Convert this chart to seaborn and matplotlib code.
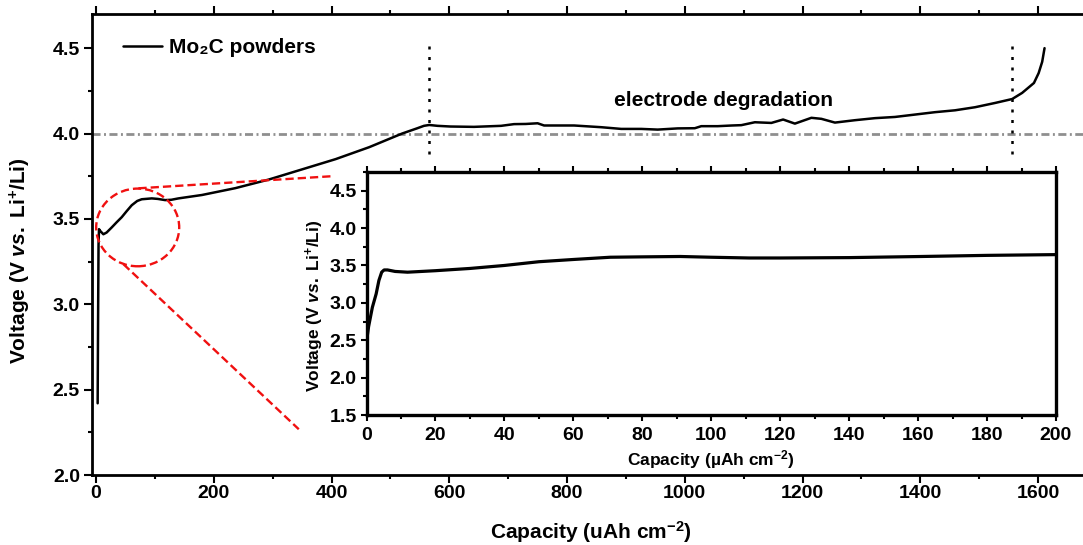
import numpy as np
import pandas as pd
import matplotlib
matplotlib.use("Agg")
import matplotlib.pyplot as plt
import seaborn as sns
from matplotlib.patches import Ellipse
from matplotlib.ticker import MultipleLocator, FormatStrFormatter

# ---------------- data ----------------
cap_main = [2.8, 3.5, 4.3, 5.1, 7, 12.5, 18, 26.7, 35, 43.7, 52, 60.7, 70, 77.7, 94.7,
            105, 117.4, 128, 140, 180, 236.6, 293, 350, 407, 464, 520, 545, 557, 566,
            580, 602, 642, 688, 710, 730, 750, 761, 812, 858, 892, 926, 954, 988, 1017,
            1028, 1056, 1080, 1096, 1119, 1147, 1167, 1187, 1215, 1232, 1255, 1289, 1323,
            1357, 1391, 1425, 1459, 1493, 1527, 1556, 1573, 1593, 1601, 1607, 1611]
volt_main = [2.42, 2.90, 3.35, 3.44, 3.43, 3.41, 3.42, 3.45, 3.48, 3.51, 3.545, 3.58, 3.605,
             3.615, 3.62, 3.617, 3.61, 3.612, 3.62, 3.64, 3.68, 3.73, 3.79, 3.85, 3.92, 4.00,
             4.03, 4.045, 4.05, 4.045, 4.041, 4.039, 4.045, 4.055, 4.056, 4.06, 4.047, 4.047,
             4.037, 4.027, 4.027, 4.023, 4.03, 4.031, 4.043, 4.043, 4.047, 4.049, 4.066, 4.062,
             4.082, 4.058, 4.092, 4.086, 4.064, 4.078, 4.09, 4.097, 4.111, 4.125, 4.136, 4.154,
             4.179, 4.202, 4.238, 4.296, 4.354, 4.42, 4.50]

cap_inset = [0, 0.6, 1.7, 2.8, 3.6, 4.4, 5.1, 6.1, 8.3, 11.9, 20, 30, 40, 50, 60, 70.7, 80,
             91, 100, 111, 120, 140, 161, 180, 200]
volt_inset = [2.48, 2.68, 2.94, 3.12, 3.30, 3.41, 3.44, 3.44, 3.42, 3.41, 3.43, 3.46, 3.50,
              3.55, 3.58, 3.61, 3.615, 3.62, 3.61, 3.60, 3.60, 3.605, 3.62, 3.635, 3.645]

series_label = "Mo\u2082C powders"
annotation_text = "electrode degradation"
main_xlabel = r"Capacity (uAh cm$^{-2}$)"
inset_xlabel = "Capacity (\u00b5Ah cm$^{-2}$)"
ylabel_text = r"Voltage (V $\mathit{vs.}$ Li$^{+}$/Li)"
main_xticks = [0, 200, 400, 600, 800, 1000, 1200, 1400, 1600]
main_yticks = [2.0, 2.5, 3.0, 3.5, 4.0, 4.5]
inset_xticks = [0, 20, 40, 60, 80, 100, 120, 140, 160, 180, 200]
inset_yticks = [1.5, 2.0, 2.5, 3.0, 3.5, 4.0, 4.5]
ref_voltage = 4.0
degradation_bounds = [566, 1555]
degradation_span = [3.88, 4.53]
text_pos = [1065, 4.195]
zoom_circle = [70.8, 3.45, 141, 0.455]       # center x, center y, width, height
zoom_line_upper = [[72, 401], [3.679, 3.75]]
zoom_line_lower = [[46.5, 344.4], [3.235, 2.268]]

df_main = pd.DataFrame({"cap": cap_main, "volt": volt_main})
df_inset = pd.DataFrame({"cap": cap_inset, "volt": volt_inset})

# ---------------- style ----------------
sns.set_theme(style="ticks")
plt.rcParams["font.family"] = ["Liberation Sans", "DejaVu Sans"]
plt.rcParams["font.weight"] = "bold"
plt.rcParams["axes.labelweight"] = "bold"
plt.rcParams["text.color"] = "black"
plt.rcParams["axes.labelcolor"] = "black"
plt.rcParams["xtick.color"] = "black"
plt.rcParams["ytick.color"] = "black"
plt.rcParams["legend.labelcolor"] = "black"
plt.rcParams["mathtext.fontset"] = "custom"
plt.rcParams["mathtext.rm"] = "Liberation Sans:bold"
plt.rcParams["mathtext.it"] = "Liberation Sans:italic:bold"
plt.rcParams["mathtext.bf"] = "Liberation Sans:bold"
plt.rcParams["mathtext.sf"] = "Liberation Sans:bold"
plt.rcParams["mathtext.default"] = "rm"

W, H = 1083, 545
fig = plt.figure(figsize=(W / 100, H / 100), dpi=100)

# main axes
ax = fig.add_axes([92 / W, 1 - 475 / H, (W - 92) / W + 0.002, (475 - 14) / H])
ax.set_facecolor("white")
sns.lineplot(data=df_main, x="cap", y="volt", ax=ax, color="black", lw=1.8,
             sort=False, estimator=None, label=series_label)
ax.set_xlim(-6.8, 1680)
ax.set_ylim(2.0, 4.7)
ax.set_xticks(main_xticks)
ax.set_yticks(main_yticks)
ax.xaxis.set_minor_locator(MultipleLocator(100))
ax.yaxis.set_minor_locator(MultipleLocator(0.25))
ax.yaxis.set_major_formatter(FormatStrFormatter("%.1f"))
for s in ["left", "bottom", "top"]:
    ax.spines[s].set_linewidth(2.0)
    ax.spines[s].set_color("black")
ax.spines["right"].set_visible(False)
ax.tick_params(axis="both", which="major", direction="out", length=5.5, width=1.5,
               labelsize=14, color="black", labelcolor="black")
ax.tick_params(axis="both", which="minor", direction="out", length=3.2, width=1.5,
               color="black")
ax.tick_params(axis="x", which="major", pad=1.5)
ax.tick_params(axis="y", which="major", pad=3.2)
ax.tick_params(axis="x", which="both", top=True, labeltop=False)

ax.set_xlabel(main_xlabel, fontsize=15, fontweight="bold", color="black")
ax.set_ylabel(ylabel_text, fontsize=15, fontweight="bold", color="black")
ax.xaxis.set_label_coords(0.5025, -0.096)
ax.yaxis.set_label_coords(-0.0595, 0.465)

# reference line and markers
ax.axhline(ref_voltage, color="#8f8f8f", lw=2.0, linestyle=(0, (2.9, 1.25, 0.7, 1.25)),
           zorder=1)
for xb in degradation_bounds:
    ax.plot([xb, xb], degradation_span, color="black", lw=1.8,
            linestyle=(0, (1.2, 3.0)), zorder=2)
ax.text(text_pos[0], text_pos[1], annotation_text, fontsize=15, fontweight="bold",
        ha="center", va="center", color="black")

# red zoom marker
ell = Ellipse((zoom_circle[0], zoom_circle[1]), zoom_circle[2], zoom_circle[3],
              fill=False, edgecolor="#f01010", lw=1.7, linestyle=(0, (3.5, 1.7)), zorder=3)
ax.add_patch(ell)
ax.plot(zoom_line_upper[0], zoom_line_upper[1], color="#f01010", lw=1.7,
        linestyle=(0, (3.5, 1.7)), zorder=3)
ax.plot(zoom_line_lower[0], zoom_line_lower[1], color="#f01010", lw=1.7,
        linestyle=(0, (3.5, 1.7)), zorder=3)

leg = ax.legend(loc="upper left", bbox_to_anchor=(0.031, 0.947), frameon=False,
                fontsize=15, handlelength=1.87, handletextpad=0.37, borderpad=0,
                borderaxespad=0)
for t in leg.get_texts():
    t.set_fontweight("bold")
    t.set_color("black")
for l in leg.get_lines():
    l.set_linewidth(1.8)

# inset axes
axi = fig.add_axes([366.5 / W, 1 - 415 / H, (1056 - 366.5) / W, (415 - 172) / H])
axi.set_facecolor("white")
sns.lineplot(data=df_inset, x="cap", y="volt", ax=axi, color="black", lw=2.3,
             sort=False, estimator=None, legend=False)
axi.set_xlim(0, 200)
axi.set_ylim(1.5, 4.75)
axi.set_xticks(inset_xticks)
axi.set_yticks(inset_yticks)
axi.xaxis.set_minor_locator(MultipleLocator(10))
axi.yaxis.set_minor_locator(MultipleLocator(0.25))
axi.yaxis.set_major_formatter(FormatStrFormatter("%.1f"))
for s in ["left", "bottom", "top", "right"]:
    axi.spines[s].set_linewidth(2.4)
    axi.spines[s].set_color("black")
axi.tick_params(axis="both", which="major", direction="out", length=4.5, width=1.5,
                labelsize=14, color="black", labelcolor="black")
axi.tick_params(axis="both", which="minor", direction="out", length=2.8, width=1.5,
                color="black")
axi.tick_params(axis="x", which="major", pad=4.0)
axi.tick_params(axis="y", which="major", pad=2.5)
axi.tick_params(axis="x", which="both", top=True, labeltop=False)
axi.set_xlabel(inset_xlabel, fontsize=12.5, fontweight="bold", color="black")
axi.set_ylabel(ylabel_text, fontsize=12.5, fontweight="bold", color="black")
axi.xaxis.set_label_coords(0.4996, -0.136)
axi.yaxis.set_label_coords(-0.0587, 0.449)

fig.savefig("out.png", dpi=100, facecolor="white")
